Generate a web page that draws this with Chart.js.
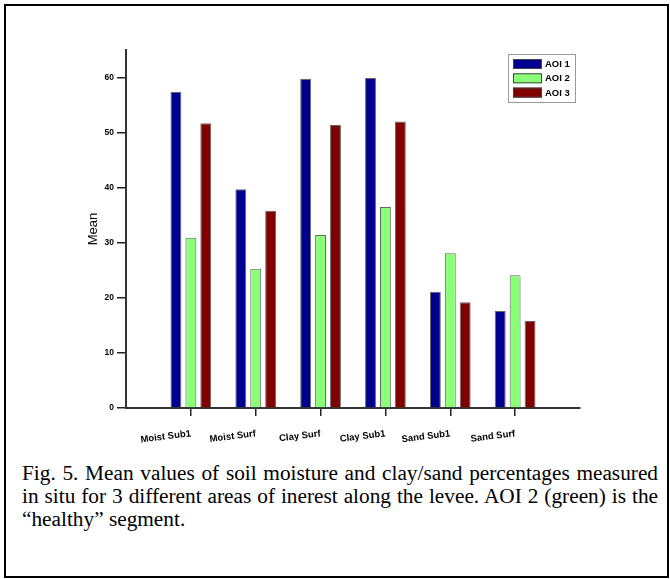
<!DOCTYPE html>
<html>
<head>
<meta charset="utf-8">
<script src="https://cdn.jsdelivr.net/npm/chart.js@4/dist/chart.umd.min.js"></script>
<style>
  html, body { margin: 0; padding: 0; background: #fff; }
  body { width: 670px; height: 579px; position: relative; overflow: hidden; }
  #frame { position: absolute; left: 4px; top: 4px; width: 661px; height: 570px; border: 2px solid #000; }
  #wrap { position: absolute; left: 0; top: 0; width: 670px; height: 460px; }
  #caption { position: absolute; left: 22px; top: 462px; width: 636px;
    font-family: "Liberation Serif", "Times New Roman", serif; font-size: 21.3px; line-height: 23px; color: #000; }
  #caption .j { text-align: justify; text-align-last: justify; white-space: nowrap; }
</style>
</head>
<body>
<div id="frame"></div>
<div id="wrap"><canvas id="c" width="670" height="460"></canvas></div>
<div id="caption">
  <div class="j">Fig. 5. Mean values of soil moisture and clay/sand percentages measured</div>
  <div class="j">in situ for 3 different areas of inerest along the levee. AOI 2 (green) is the</div>
  <div>“healthy” segment.</div>
</div>
<script>
const categories = ['Moist Sub1', 'Moist Surf', 'Clay Surf', 'Clay Sub1', 'Sand Sub1', 'Sand Surf'];
const seriesNames = ['AOI 1', 'AOI 2', 'AOI 3'];
const aoi1 = [57.4, 39.7, 59.8, 59.9, 21.1, 17.6];
const aoi2 = [30.9, 25.3, 31.4, 36.5, 28.1, 24.1];
const aoi3 = [51.7, 35.8, 51.4, 52.0, 19.2, 15.8];
const yTicks = [0, 10, 20, 30, 40, 50, 60];
const yAxisTitle = 'Mean';

const colors = ['#000090', '#8CFF78', '#800000'];
const pad = arr => [null, ...arr, null];
const labels = ['', ...categories, ''];

Chart.defaults.font.family = '"Liberation Sans", Arial, sans-serif';
Chart.defaults.color = '#000';

const legendBox = {
  id: 'legendBox',
  afterDraw(chart) {
    const ctx = chart.ctx;
    const ca = chart.chartArea;
    const x0 = ca.right - 72, y0 = 54, w = 67, h = 48;
    ctx.save();
    ctx.strokeStyle = '#9a9a9a';
    ctx.lineWidth = 1;
    ctx.strokeRect(x0 + 0.5, y0 + 0.5, w, h);
    ctx.font = 'bold 9.5px "Liberation Sans", Arial, sans-serif';
    ctx.textBaseline = 'middle';
    chart.data.datasets.forEach((ds, i) => {
      const cy = y0 + 10 + i * 14.3;
      ctx.fillStyle = ds.backgroundColor;
      ctx.fillRect(x0 + 5, cy - 5, 29, 10);
      ctx.strokeStyle = '#444';
      ctx.strokeRect(x0 + 5.5, cy - 4.5, 28, 9);
      ctx.fillStyle = '#000';
      ctx.fillText(ds.label, x0 + 37, cy + 0.5);
    });
    ctx.restore();
  }
};

new Chart(document.getElementById('c'), {
  type: 'bar',
  data: {
    labels: labels,
    datasets: [aoi1, aoi2, aoi3].map((d, i) => ({
      label: seriesNames[i],
      data: pad(d),
      backgroundColor: colors[i],
      borderColor: '#666',
      borderWidth: 1,
      categoryPercentage: 0.69,
      barPercentage: 0.73
    }))
  },
  options: {
    responsive: false,
    animation: false,
    layout: { padding: { left: 84, top: 50, right: 90, bottom: 0 } },
    plugins: { legend: { display: false }, tooltip: { enabled: false } },
    scales: {
      x: {
        offset: false,
        grid: {
          offset: false,
          drawOnChartArea: false,
          tickLength: 8,
          lineWidth: 1.5,
          color: ctx => (ctx.index === 0 || ctx.index === labels.length - 1) ? 'rgba(0,0,0,0)' : '#222'
        },
        border: { display: true, color: '#333', width: 2 },
        ticks: {
          autoSkip: false,
          minRotation: 7,
          maxRotation: 7,
          padding: 12,
          font: { size: 9.5, weight: 'bold' },
          color: '#000'
        },
        afterFit: s => { s.height = 52; }
      },
      y: {
        min: 0,
        max: 65,
        grid: { drawOnChartArea: false, tickLength: 9, lineWidth: 1.5, color: '#222' },
        border: { display: true, color: '#333', width: 2 },
        ticks: { stepSize: 10, padding: 3, font: { size: 8.5, weight: 'bold' }, color: '#000' },
        afterBuildTicks: s => { s.ticks = yTicks.map(v => ({ value: v })); },
        title: { display: true, text: yAxisTitle, font: { size: 13 }, color: '#000', padding: { top: 2, bottom: 4 } },
        afterFit: s => { s.width = 42; }
      }
    }
  },
  plugins: [legendBox]
});
</script>
</body>
</html>
